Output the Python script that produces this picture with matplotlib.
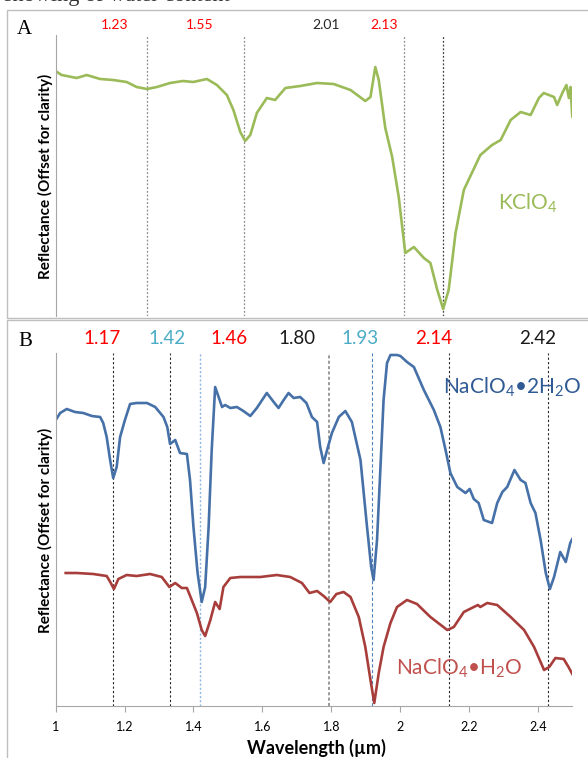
import matplotlib
matplotlib.use("Agg")
import matplotlib.pyplot as plt
from matplotlib.patches import Rectangle

plt.rcParams['font.family'] = ['Lato', 'DejaVu Sans']
plt.rcParams['mathtext.fontset'] = 'custom'
plt.rcParams['mathtext.rm'] = 'Lato'
plt.rcParams['mathtext.default'] = 'regular'

# --- data (wavelength in um, reflectance offset, arbitrary units) ---
kclo4_wl = [1.004, 1.017, 1.032, 1.061, 1.090, 1.129, 1.167, 1.206, 1.235, 1.265,
            1.294, 1.332, 1.370, 1.399, 1.439, 1.468, 1.497, 1.516, 1.536, 1.550,
            1.565, 1.584, 1.613, 1.637, 1.667, 1.710, 1.759, 1.807, 1.856, 1.899,
            1.914, 1.928, 1.938, 1.957, 1.977, 1.996, 2.015, 2.040, 2.069, 2.088,
            2.108, 2.125, 2.141, 2.161, 2.185, 2.233, 2.267, 2.292, 2.321, 2.350,
            2.379, 2.403, 2.417, 2.447, 2.456, 2.471, 2.483, 2.490, 2.495, 2.500, 2.505]
kclo4_r = [24.3, 24.0, 23.9, 23.7, 24.0, 23.6, 23.5, 23.3, 22.8, 22.6,
           22.8, 23.2, 23.4, 23.3, 23.6, 23.0, 22.0, 20.5, 18.3, 17.4,
           18.0, 20.2, 21.7, 21.5, 22.7, 22.9, 23.2, 23.1, 22.5, 21.4,
           21.8, 24.8, 23.5, 18.7, 15.8, 11.8, 6.2, 6.8, 5.7, 5.2,
           2.5, 0.6, 2.5, 8.2, 12.5, 16.0, 17.0, 17.5, 19.5, 20.3,
           20.0, 21.7, 22.2, 21.8, 21.0, 22.2, 23.0, 21.7, 22.8, 19.8, 19.7]

dihydrate_wl = [1.000, 1.013, 1.032, 1.056, 1.080, 1.105, 1.129, 1.138, 1.148, 1.158,
                1.167, 1.177, 1.187, 1.201, 1.216, 1.235, 1.265, 1.289, 1.313, 1.324,
                1.332, 1.347, 1.361, 1.381, 1.390, 1.400, 1.412, 1.424, 1.434, 1.444,
                1.453, 1.463, 1.473, 1.483, 1.492, 1.507, 1.526, 1.545, 1.565, 1.584,
                1.613, 1.633, 1.647, 1.662, 1.676, 1.691, 1.710, 1.728, 1.744, 1.759,
                1.768, 1.778, 1.788, 1.802, 1.822, 1.841, 1.860, 1.885, 1.904, 1.916,
                1.923, 1.933, 1.943, 1.952, 1.962, 1.972, 1.991, 2.001, 2.020, 2.040,
                2.069, 2.098, 2.117, 2.132, 2.146, 2.166, 2.190, 2.202, 2.214, 2.228,
                2.243, 2.267, 2.282, 2.297, 2.311, 2.332, 2.350, 2.364, 2.379, 2.393,
                2.408, 2.423, 2.435, 2.447, 2.465, 2.481, 2.494, 2.500]
dihydrate_r = [28.6, 29.3, 29.7, 29.4, 29.3, 29.0, 28.9, 28.3, 26.9, 24.6,
               22.8, 23.9, 26.9, 28.6, 30.2, 30.3, 30.3, 29.9, 28.9, 27.9,
               26.2, 26.6, 25.3, 25.2, 22.6, 17.9, 13.3, 10.4, 11.9, 17.9,
               25.6, 31.9, 30.9, 29.9, 30.1, 29.8, 29.9, 29.5, 29.0, 29.8,
               31.3, 30.4, 29.8, 30.6, 31.3, 30.8, 30.9, 30.3, 28.9, 28.4,
               25.9, 24.3, 25.6, 27.3, 28.9, 29.5, 28.4, 24.6, 17.9, 13.9,
               12.6, 16.6, 23.9, 30.6, 34.3, 35.1, 35.1, 35.0, 34.4, 33.9,
               31.6, 29.6, 27.9, 25.6, 23.3, 21.9, 21.3, 21.7, 20.7, 20.3,
               18.6, 18.3, 20.3, 21.4, 21.9, 23.6, 22.6, 22.3, 20.3, 19.3,
               16.6, 13.3, 11.7, 12.9, 15.4, 14.4, 16.3, 16.7]

monohydrate_wl = [1.029, 1.061, 1.109, 1.148, 1.160, 1.169, 1.182, 1.206, 1.235, 1.274,
                  1.308, 1.330, 1.347, 1.366, 1.381, 1.395, 1.410, 1.424, 1.434, 1.449,
                  1.463, 1.476, 1.487, 1.507, 1.536, 1.594, 1.642, 1.681, 1.715, 1.737,
                  1.759, 1.778, 1.797, 1.815, 1.836, 1.856, 1.880, 1.899, 1.914, 1.925,
                  1.938, 1.952, 1.972, 1.991, 2.020, 2.049, 2.088, 2.137, 2.156, 2.185,
                  2.214, 2.226, 2.233, 2.253, 2.282, 2.321, 2.360, 2.389, 2.418, 2.433,
                  2.451, 2.475, 2.489, 2.500]
monohydrate_r = [13.3, 13.3, 13.2, 13.0, 12.3, 11.7, 12.7, 13.1, 13.0, 13.2,
                 12.9, 11.9, 12.3, 11.8, 11.8, 10.6, 9.3, 7.6, 7.0, 8.6,
                 10.4, 9.7, 11.9, 12.8, 12.9, 12.9, 13.1, 12.9, 12.3, 11.3,
                 11.5, 11.0, 10.4, 11.2, 11.4, 10.9, 8.9, 5.9, 2.6, 0.3,
                 3.3, 5.9, 8.3, 9.9, 10.6, 10.2, 8.9, 7.6, 7.9, 9.4,
                 9.9, 10.1, 9.9, 10.3, 10.1, 8.9, 7.6, 5.9, 3.6, 3.9,
                 4.8, 4.7, 3.9, 3.2]

# band markers
a_bands = [1.265, 1.547, 2.010, 2.126]
a_labels = ['1.23', '1.55', '2.01', '2.13']
a_label_colors = ['#FF0000', '#FF0000', '#262626', '#FF0000']

b_bands = [1.167, 1.332, 1.419, 1.795, 1.919, 2.141, 2.429]
b_labels = ['1.17', '1.42', '1.46', '1.80', '1.93', '2.14', '2.42']
b_label_colors = ['#FF0000', '#4BACC6', '#FF0000', '#1A1A1A', '#4BACC6', '#FF0000', '#1A1A1A']

x_ticks = [1, 1.2, 1.4, 1.6, 1.8, 2, 2.2, 2.4]
x_ticklabels = ['1', '1.2', '1.4', '1.6', '1.8', '2', '2.2', '2.4']

W, H = 588, 758
fig = plt.figure(figsize=(W / 100, H / 100), dpi=100)


def frac(x0, y0, x1, y1):
    return [x0 / W, 1 - y1 / H, (x1 - x0) / W, (y1 - y0) / H]


box_col = '#BFBFBF'
fig.add_artist(Rectangle((7 / W, 1 - 318 / H), 1.0, (318 - 10) / H,
                         transform=fig.transFigure, fill=False, ec=box_col, lw=1))
fig.add_artist(Rectangle((7 / W, -0.05), 1.0, 1 - 320 / H + 0.05,
                         transform=fig.transFigure, fill=False, ec=box_col, lw=1))

# cut-off caption text at the very top
fig.text(4 / W, 1 - 1.5 / H, 'showing of water content', family='Liberation Serif',
         fontsize=16, va='baseline', ha='left', color='#333333')

axA = fig.add_axes(frac(55.7, 35, 572.3, 316))
axB = fig.add_axes(frac(55.7, 353, 572.3, 706))

# ---------- panel A ----------
axA.plot(kclo4_wl, kclo4_r, color='#9BBB59', lw=1.9, solid_joinstyle='round')
axA.set_xlim(1, 2.5)
axA.set_ylim(-0.1, 28.0)
for s in ['top', 'right', 'bottom']:
    axA.spines[s].set_visible(False)
axA.spines['left'].set_color('#A6A6A6')
axA.set_xticks([])
axA.set_yticks([])
axA.patch.set_alpha(0)

a_line_colors = ['#8C8C8C', '#8C8C8C', '#8C8C8C', '#404040']
for b, c in zip(a_bands, a_line_colors):
    axA.axvline(b, color=c, lw=0.9, ls=(0, (1.5, 1.5)), zorder=0)

a_label_x = [1.170, 1.417, 1.785, 1.954]
for x, t, c in zip(a_label_x, a_labels, a_label_colors):
    axA.text(x, 1.0356, t, transform=axA.get_xaxis_transform(), ha='center', va='center',
             color=c, fontsize=10, clip_on=False)

axA.text(2.370, 11.2, r'KClO$_4$', color='#9BBB59', fontsize=15, ha='center', va='center')

fig.text(24 / W, 1 - 30 / H, 'A', family='Liberation Serif', fontsize=15,
         ha='center', va='center')
fig.text(45 / W, 1 - 176 / H, 'Reflectance (Offset for clarity)', rotation=90,
         fontsize=11, fontweight='bold', ha='center', va='center')

# ---------- panel B ----------
axB.plot(dihydrate_wl, dihydrate_r, color='#4671A8', lw=1.9, solid_joinstyle='round')
axB.plot(monohydrate_wl, monohydrate_r, color='#A83E3B', lw=1.9, solid_joinstyle='round')
axB.set_xlim(1, 2.5)
axB.set_ylim(0, 35.3)
for s in ['top', 'right']:
    axB.spines[s].set_visible(False)
axB.spines['left'].set_color('#A6A6A6')
axB.spines['bottom'].set_color('#A6A6A6')
axB.set_yticks([])
axB.set_xticks(x_ticks)
axB.set_xticklabels(x_ticklabels)
axB.tick_params(axis='x', direction='out', length=4, color='#A6A6A6', labelsize=9, pad=7)
axB.patch.set_alpha(0)

b_line_styles = [('#262626', 0.8, (0, (2, 2))), ('#262626', 0.8, (0, (2, 2))),
                 ('#8DB4E2', 1.0, (0, (1.5, 1.5))), ('#7F7F7F', 1.1, (0, (2, 1.5))),
                 ('#4F81BD', 0.8, (0, (3, 2))), ('#262626', 0.8, (0, (2, 2))),
                 ('#262626', 0.8, (0, (2, 2)))]
for b, (c, lw, ls) in zip(b_bands, b_line_styles):
    axB.axvline(b, color=c, lw=lw, ls=ls, zorder=0)

b_label_x = [1.134, 1.324, 1.504, 1.700, 1.885, 2.098, 2.400]
for x, t, c in zip(b_label_x, b_labels, b_label_colors):
    axB.text(x, 1.041, t, transform=axB.get_xaxis_transform(), ha='center', va='center',
             color=c, fontsize=13.5, clip_on=False)

axB.text(2.326, 31.9, r'NaClO$_4$•2H$_2$O', color='#2F5A93', fontsize=15,
         ha='center', va='center')
axB.text(2.170, 3.8, r'NaClO$_4$•H$_2$O', color='#C0504D', fontsize=15,
         ha='center', va='center')

fig.text(25.5 / W, 1 - 341 / H, 'B', family='Liberation Serif', fontsize=15,
         ha='center', va='center')
fig.text(45 / W, 1 - 530 / H, 'Reflectance (Offset for clarity)', rotation=90,
         fontsize=11, fontweight='bold', ha='center', va='center')
fig.text(316 / W, 1 - 748 / H, 'Wavelength (µm)', fontsize=13, fontweight='bold',
         ha='center', va='center')

fig.savefig('out.png', dpi=100, facecolor='white')
